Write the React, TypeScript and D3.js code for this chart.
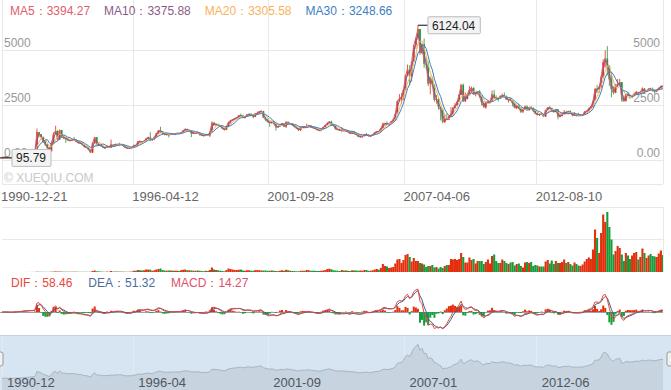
import * as d3 from "d3";
import { useEffect, useRef } from "react";

const W = 671;
const H = 390;
const FONT = '"Liberation Sans", Arial, sans-serif';

// Shanghai Composite, one bar per month starting 1990-12
const START_YEAR = 1990;
const START_MONTH = 11;
const FIRST_OPEN = 96.05;

const closes = [
  127.61,
  129.97, 133.01, 120.19, 113.94, 114.83, 137.56, 145.54, 178.43, 180.92, 218.6, 259.6, 292.75,
  313.24, 341.35, 368.83, 443.55, 1266.49, 1169.74, 1040.59, 823.27, 703.64, 549.45, 393.52, 780.39,
  1179.0, 1321.9, 925.9, 1357.3, 1039.5, 1007.1, 960.4, 893.3, 895.7, 919.0, 935.7, 833.8,
  770.3, 782.3, 692.4, 593.9, 567.9, 467.2, 333.9, 763.1, 1033.5, 700.0, 679.6, 647.9,
  562.6, 549.3, 642.9, 559.2, 701.0, 630.6, 713.4, 712.0, 703.1, 716.3, 619.8, 555.3,
  537.4, 545.8, 570.7, 676.9, 657.4, 850.3, 826.4, 825.0, 869.8, 980.8, 1027.1, 917.0,
  960.7, 1052.0, 1208.7, 1340.7, 1309.8, 1197.7, 1167.1, 1172.9, 1134.1, 1197.2, 1168.2, 1194.1,
  1222.2, 1206.5, 1243.2, 1343.4, 1411.9, 1338.4, 1356.2, 1205.7, 1235.3, 1216.0, 1249.1, 1146.7,
  1134.7, 1090.1, 1158.1, 1120.6, 1279.3, 1689.4, 1601.2, 1627.7, 1566.4, 1523.4, 1426.9, 1366.6,
  1534.9, 1714.6, 1800.2, 1836.3, 1894.6, 1928.1, 2023.5, 2021.2, 1910.2, 1961.3, 2070.6, 2073.5,
  2065.6, 1959.2, 2112.8, 2119.2, 2214.3, 2218.0, 1920.3, 1834.1, 1724.9, 1690.3, 1747.0, 1646.0,
  1491.2, 1524.6, 1603.0, 1667.6, 1515.7, 1732.8, 1652.8, 1669.2, 1581.6, 1507.4, 1435.8, 1357.7,
  1499.8, 1511.9, 1510.7, 1521.4, 1576.3, 1487.0, 1476.7, 1421.2, 1367.2, 1348.3, 1397.2, 1497.0,
  1590.7, 1675.1, 1741.6, 1595.6, 1555.9, 1399.2, 1386.2, 1342.1, 1396.7, 1320.5, 1340.8, 1266.5,
  1191.8, 1306.0, 1181.2, 1159.2, 1060.7, 1080.9, 1083.0, 1162.8, 1155.6, 1092.8, 1099.3, 1161.1,
  1258.0, 1299.0, 1298.3, 1440.2, 1641.3, 1672.2, 1612.7, 1658.6, 1752.4, 1837.9, 2099.3, 2675.5,
  2786.3, 2881.1, 3184.0, 3841.3, 4109.7, 3820.7, 4471.0, 5218.8, 5552.3, 5954.8, 4871.8, 5261.6,
  4383.4, 4348.5, 3472.7, 3693.1, 3433.4, 2736.1, 2775.7, 2397.4, 2293.8, 1728.8, 1871.2, 1820.8,
  1990.7, 2082.9, 2373.2, 2477.6, 2632.9, 2959.4, 3412.1, 2667.7, 2779.4, 2995.9, 3195.3, 3277.1,
  2989.3, 3051.9, 3109.1, 2870.6, 2592.2, 2398.4, 2637.5, 2638.8, 2655.7, 2978.8, 2820.2, 2808.1,
  2790.7, 2905.1, 2928.1, 2911.5, 2743.5, 2762.1, 2701.7, 2567.3, 2359.2, 2468.3, 2333.4, 2199.4,
  2292.6, 2428.5, 2262.8, 2396.3, 2372.2, 2225.4, 2103.6, 2047.5, 2086.2, 2068.9, 1980.1, 2269.1,
  2385.4, 2365.6, 2236.6, 2177.9, 2300.6, 1979.2, 1993.8, 2098.4, 2174.7, 2141.6, 2220.5, 2116.0,
  2033.1, 2056.3, 2033.3, 2026.4, 2039.2, 2048.3, 2201.6, 2217.2, 2363.9, 2420.2, 2682.8, 3234.7,
  3210.4, 3310.3, 3747.9, 4441.7, 4611.7, 4277.2, 3663.7, 3206.0, 3052.8, 3382.6, 3445.4, 3539.2,
  2737.6, 2688.0, 3003.9, 2938.3, 2916.6, 2929.6, 2979.3, 3085.5, 3004.7, 3100.5, 3250.0, 3103.6,
  3159.2, 3241.7, 3222.5, 3154.7, 3117.2, 3192.4, 3273.0, 3360.8, 3348.9,
];

const highs = [
  127.61,
  135.2, 134.9, 134.0, 120.2, 115.0, 137.6, 146.0, 178.5, 188.0, 219.0, 260.0, 293.0,
  314, 342, 370, 444, 1429.01, 1282, 1183, 1061, 865, 728, 592, 830,
  1260, 1558.95, 1342, 1392, 1366, 1110, 1034, 1003, 934, 957, 1044, 943,
  860, 808, 793, 698, 619, 578, 478, 804, 1052.94, 1040, 780, 700,
  648, 570, 663, 649, 926.41, 713, 735, 738, 790, 733, 719, 624,
  558, 559, 579, 689, 695, 862, 885, 835, 880, 992, 1058, 1258.69,
  966, 1062, 1222, 1370, 1510.18, 1315, 1220, 1178, 1180, 1215, 1204, 1196,
  1236, 1228, 1254, 1352, 1420, 1422.98, 1377, 1360, 1277, 1245, 1301, 1257,
  1165, 1140, 1165, 1192, 1293, 1756.18, 1736, 1670, 1652, 1591, 1535, 1440,
  1552, 1749, 1806, 1851, 1898, 1933, 2037, 2114.5, 2050, 1972, 2082, 2125.7,
  2131, 2091, 2121, 2199, 2216, 2245.43, 2231, 1969, 1885, 1776, 1789, 1776,
  1659, 1543, 1610, 1673, 1671, 1748, 1748.9, 1682, 1676, 1587, 1520, 1444,
  1503, 1524, 1535, 1649.6, 1583, 1584, 1515, 1483, 1427, 1378, 1423, 1502,
  1600, 1707, 1769, 1783.01, 1605, 1568, 1439, 1396, 1492, 1402, 1381, 1345,
  1273, 1329, 1315, 1232, 1165, 1146, 1089, 1182, 1223, 1160, 1104, 1178,
  1260, 1311, 1305, 1446, 1694, 1677, 1757, 1661, 1758, 1842, 2101, 2698,
  2994, 3049, 3197, 3851, 4335.96, 4311, 4476, 5220, 5561, 6124.04, 5957, 5300,
  5522.78, 4695, 4472, 3786, 3786, 3440, 2952, 2806, 2432, 2322, 2050, 2100.8,
  2017, 2402, 2402, 2579, 2688, 2989, 3454, 3478.01, 3068, 3007, 3361, 3338,
  3306, 3073, 3125, 3181.66, 2900, 2661, 2654, 2708, 2694, 3159, 3186.72, 2939,
  2863, 2937, 3023, 3067.46, 2934, 2765, 2826, 2710, 2575, 2477, 2536, 2398,
  2302, 2478, 2478, 2414, 2453, 2391, 2249, 2167, 2109, 2138, 2091, 2276,
  2398, 2444.8, 2381, 2254, 2333, 2315, 2092, 2174, 2270, 2243, 2236, 2257,
  2120, 2177, 2075, 2146, 2055, 2085, 2203, 2248, 2378, 2450, 2683, 3239,
  3406.79, 3345, 3835, 4572, 4985, 5178.19, 4300, 4006, 3356, 3459, 3678, 3684.57,
  3540, 2933, 3018, 3097, 2961, 2945, 3070, 3140, 3107, 3112, 3301, 3264,
  3176, 3263, 3280, 3295.19, 3160, 3193, 3301, 3381, 3391,
];

const lows = [
  95.79,
  127.6, 129.5, 119.5, 112.2, 104.96, 114.0, 136.0, 145.0, 175.0, 180.0, 218.0, 259.0,
  292, 313, 341, 368, 443, 1039, 1007, 781, 640, 518, 386.85, 393,
  772, 1156, 890, 920, 1001, 946, 777, 881, 869, 866, 892, 810,
  758, 727, 666, 574, 544, 462, 325.89, 326, 746, 660, 640, 620,
  562, 524.43, 549, 555, 557, 621, 610, 694, 686, 696, 616, 549,
  512.83, 527, 542, 566, 641, 650, 798, 795, 808, 860, 947, 855,
  870, 911, 1045, 1200, 1231, 1142, 1120, 1120, 1025, 1126, 1145, 1126,
  1190, 1177, 1201, 1237, 1336, 1328, 1298, 1043, 1200, 1178, 1209, 1114,
  1084, 1064, 1086, 1113, 1047.83, 1272, 1563, 1543, 1546, 1512, 1413, 1341,
  1361, 1517, 1663, 1782, 1800, 1846, 1925, 1986, 1910, 1885, 1963, 2042,
  2031, 1893, 1950, 2063, 2105, 2175, 1907, 1775, 1713, 1514.86, 1636, 1617,
  1339.2, 1459, 1515, 1588, 1501, 1455, 1639, 1607, 1559, 1487, 1423, 1311.7,
  1313, 1469, 1455, 1504, 1504, 1479, 1448, 1406, 1358, 1307, 1307.4, 1384,
  1490, 1590, 1664, 1560, 1545, 1395, 1364, 1323, 1259.4, 1296, 1290, 1259,
  1189, 1180, 1172, 1135, 1051, 998.2, 1004, 1077, 1130, 1067, 1074, 1092,
  1158, 1257, 1262, 1297, 1440, 1541, 1587, 1543, 1652, 1751, 1836, 2082,
  2641, 2541, 2724, 3165, 3797, 3404, 3563.54, 4470, 5050, 5462, 4778, 4812,
  4195, 4123, 3357, 2990.79, 3333, 2654, 2566, 2284, 1802, 1664.93, 1678, 1814,
  1814, 1990, 2037, 2347, 2470, 2630, 2953, 2639, 2639, 2759, 2990, 3039,
  2977, 2890, 2976, 2837, 2481, 2382, 2319.74, 2560, 2573, 2644, 2775, 2721,
  2661, 2773, 2855, 2893, 2740, 2610, 2700, 2437, 2356, 2307, 2333, 2134,
  2132.6, 2273, 2242, 2254, 2360, 2200, 2094, 2039, 1999, 2055, 1978, 1949.46,
  2254, 2305, 2212, 2161, 2170, 1849.65, 1951, 1991, 2096, 2127, 2087, 2105,
  1984, 2033, 1974, 2010, 1991, 2010, 2034, 2193, 2210, 2303, 2408, 2680,
  3044, 3049, 3261, 3740, 4198, 3847, 3373, 2850.71, 2983, 3039, 3323, 3397,
  2638.3, 2638.96, 2649, 2925, 2780, 2807, 2925, 2947, 2969, 3000, 3100, 3044,
  3085, 3149, 3190, 3111, 3016.5, 3092, 3173, 3247, 3341,
];

// monthly turnover, 100M shares
const volumes = [
  0.5,
  1, 1, 1, 1, 1, 1, 2, 3, 3, 4, 5, 6,
  10, 12, 15, 20, 60, 45, 40, 35, 30, 30, 35, 60,
  80, 120, 90, 100, 80, 60, 50, 60, 50, 50, 70, 60,
  50, 40, 40, 40, 40, 40, 40, 200, 300, 150, 120, 80,
  60, 40, 80, 60, 200, 80, 100, 90, 90, 80, 70, 60,
  50, 60, 90, 250, 250, 400, 350, 300, 350, 500, 500, 450,
  250, 350, 500, 600, 700, 400, 300, 250, 300, 300, 250, 250,
  250, 200, 350, 450, 500, 350, 350, 300, 250, 250, 300, 250,
  200, 150, 250, 200, 400, 900, 500, 400, 350, 250, 200, 150,
  400, 700, 600, 500, 400, 400, 450, 500, 300, 250, 350, 350,
  250, 250, 350, 400, 350, 300, 300, 300, 250, 250, 300, 250,
  200, 150, 250, 350, 250, 450, 350, 250, 200, 200, 150, 150,
  250, 250, 250, 400, 350, 250, 250, 250, 200, 200, 250, 300,
  400, 600, 650, 550, 350, 300, 250, 200, 400, 300, 300, 250,
  200, 350, 300, 300, 250, 300, 250, 400, 400, 250, 250, 350,
  500, 600, 450, 800, 1600, 1200, 1100, 800, 900, 1000, 1700, 2500,
  2600, 1800, 2400, 3400, 3600, 3000, 2100, 2800, 2200, 2200, 1800, 1700,
  1500, 1000, 1200, 1200, 1400, 900, 1000, 700, 1000, 800, 1200, 1400,
  1400, 2600, 2500, 2600, 2400, 2600, 3800, 3000, 1900, 1900, 2900, 2400,
  2600, 1700, 2200, 2200, 2200, 1600, 2000, 2500, 1700, 3200, 3500, 2200,
  1800, 1800, 2500, 2200, 1800, 1600, 1900, 2000, 1300, 1600, 1700, 1200,
  900, 1900, 2000, 1800, 2000, 1200, 1400, 1300, 1100, 1100, 1100, 2100,
  2400, 1700, 2300, 1600, 2200, 1800, 1800, 2000, 2500, 1800, 2000, 1600,
  1300, 1900, 1600, 1300, 1200, 1500, 2100, 2600, 2900, 2600, 4500, 8500,
  6800, 3800, 7800, 11500, 10000, 12000, 9000, 6500, 3500, 4200, 5200, 4800,
  3500, 2200, 3800, 3300, 2600, 3300, 3800, 4000, 2500, 3000, 4700, 3800,
  2800, 3300, 3600, 3200, 3100, 3000, 3700, 4300, 3400,
];

const maNames = ["MA5", "MA10", "MA20", "MA30"];
const maMonths = [1, 2, 4, 6]; // monthly span closest to 5/10/20/30 weeks
const maColors = ["#e0606e", "#8d5b86", "#f7b35a", "#3d7ec4"];
const maLegend = [3394.27, 3375.88, 3305.58, 3248.66];

const macdNames = ["DIF", "DEA", "MACD"];
const macdColors = ["#e8473c", "#4a6b9c", "#e0506a"];
const macdLegend = [58.46, 51.32, 14.27];

const priceTicks = [0, 2500, 5000];
const priceTickLabels = ["0.00", "2500", "5000"];
const axisDates = ["1990-12-21", "1996-04-12", "2001-09-28", "2007-04-06", "2012-08-10"];
const navLabels = ["1990-12", "1996-04", "2001-09", "2007-01", "2012-06"];

const UP = "#e2300f";
const DOWN = "#169c3b";
const GRID = "#e8e8e8";

export default function App() {
  const ref = useRef<SVGSVGElement>(null);

  useEffect(() => {
    if (!ref.current) return;
    document.body.style.margin = "0";

    const svg = d3.select(ref.current);
    svg.selectAll("*").remove();
    svg.attr("width", W).attr("height", H).style("font-family", FONT).style("display", "block");

    const n = closes.length;
    const dates = closes.map((_, i) => new Date(START_YEAR, START_MONTH + i, 20));
    const opens = closes.map((_, i) => (i === 0 ? FIRST_OPEN : closes[i - 1]));
    const isUp = (i: number) => closes[i] >= opens[i];

    const x = d3.scaleTime().domain([dates[0], dates[n - 1]]).range([2, 663]);
    const parse = d3.timeParse("%Y-%m-%d");
    const tickX = axisDates.map((s) => x(parse(s)!));

    const yPrice = d3.scaleLinear().domain([0, 5000]).range([160, 50]);
    const yVol = d3.scaleLinear().domain([0, 13000]).range([272, 207]);
    const yNav = d3.scaleLinear().domain([0, 6000]).range([379, 344]);

    const defs = svg.append("defs");
    const clip = (id: string, y: number, h: number) =>
      defs.append("clipPath").attr("id", id).append("rect").attr("x", 0).attr("y", y).attr("width", 663).attr("height", h);
    clip("clipMain", 0, 184);
    clip("clipVol", 207, 65);
    clip("clipMacd", 274, 59);

    // ---- main price panel ----
    const grid = svg.append("g").attr("stroke", GRID).attr("stroke-width", 1).attr("shape-rendering", "crispEdges");
    tickX.forEach((tx) => grid.append("line").attr("x1", tx).attr("x2", tx).attr("y1", 0).attr("y2", 184));
    priceTicks.forEach((v) =>
      grid.append("line").attr("x1", 2).attr("x2", 663).attr("y1", yPrice(v)).attr("y2", yPrice(v))
    );
    grid.append("line").attr("x1", 2).attr("x2", 663).attr("y1", 184).attr("y2", 184);
    grid.append("line").attr("x1", 663).attr("x2", 663).attr("y1", 0).attr("y2", 184);

    priceTicks.forEach((v, k) => {
      svg.append("text").attr("x", 4).attr("y", yPrice(v) - 3)
        .attr("font-size", 12).attr("fill", "#999").text(priceTickLabels[k]);
      svg.append("text").attr("x", 660).attr("y", yPrice(v) - 3).attr("text-anchor", "end")
        .attr("font-size", 12).attr("fill", "#999").text(priceTickLabels[k]);
    });

    svg.append("text").attr("x", 4).attr("y", 182).attr("font-size", 12).attr("fill", "#c8c8c8")
      .text("© XUEQIU.COM");

    const main = svg.append("g").attr("clip-path", "url(#clipMain)");
    const bw = 1.7;
    closes.forEach((c, i) => {
      const cx = x(dates[i]);
      const col = isUp(i) ? UP : DOWN;
      main.append("line").attr("x1", cx).attr("x2", cx)
        .attr("y1", yPrice(highs[i])).attr("y2", yPrice(lows[i]))
        .attr("stroke", col).attr("stroke-width", 0.8);
      const top = yPrice(Math.max(c, opens[i]));
      const bot = yPrice(Math.min(c, opens[i]));
      main.append("rect").attr("x", cx - bw / 2).attr("y", top)
        .attr("width", bw).attr("height", Math.max(1, bot - top)).attr("fill", col);
    });

    const movingAvg = (w: number) =>
      closes.map((_, i) => (i < w - 1 ? null : d3.mean(closes.slice(i - w + 1, i + 1))!));
    maMonths.forEach((w, k) => {
      const vals = movingAvg(w);
      const line = d3.line<number | null>()
        .defined((d) => d !== null)
        .x((_, i) => x(dates[i]))
        .y((d) => yPrice(d as number));
      main.append("path").attr("d", line(vals)).attr("fill", "none")
        .attr("stroke", maColors[k]).attr("stroke-width", 1);
    });

    // max / min flags
    const flag = (px: number, py: number, label: string, lineFrom: number) => {
      svg.append("line").attr("x1", lineFrom).attr("x2", px + 10).attr("y1", py).attr("y2", py)
        .attr("stroke", "#333").attr("stroke-width", 1.2);
      const g = svg.append("g");
      const rect = g.append("rect").attr("x", px + 10).attr("y", py - 8.5).attr("height", 17)
        .attr("rx", 1).attr("fill", "#f3f3f3").attr("stroke", "#bbb");
      const t = g.append("text").attr("x", px + 14).attr("y", py + 4.5)
        .attr("font-size", 12).attr("fill", "#222").text(label);
      const tw = (t.node() as SVGTextElement).getComputedTextLength();
      rect.attr("width", tw + 9);
    };
    const iMax = d3.maxIndex(highs);
    const iMin = d3.minIndex(lows);
    const fmt = d3.format(".2f");
    flag(x(dates[iMax]), yPrice(highs[iMax]), fmt(highs[iMax]), x(dates[iMax]));
    flag(x(dates[iMin]), yPrice(lows[iMin]), fmt(lows[iMin]), 0);

    // MA legend
    const maText = svg.append("text").attr("x", 10).attr("y", 15).attr("font-size", 12);
    maNames.forEach((name, k) => {
      maText.append("tspan").attr("dx", k === 0 ? 0 : 14).attr("fill", maColors[k])
        .text(`${name}：${fmt(maLegend[k])}`);
    });

    // date axis
    axisDates.forEach((s, k) => {
      svg.append("text").attr("x", Math.max(0, tickX[k] - 1)).attr("y", 201)
        .attr("font-size", 13).attr("fill", "#666").text(s);
    });

    // ---- volume ----
    const vgrid = svg.append("g").attr("stroke", GRID).attr("shape-rendering", "crispEdges");
    [13000, 6500].forEach((v) =>
      vgrid.append("line").attr("x1", 2).attr("x2", 663).attr("y1", yVol(v)).attr("y2", yVol(v))
    );
    vgrid.append("line").attr("x1", 663).attr("x2", 663).attr("y1", 207).attr("y2", 272);

    const vol = svg.append("g").attr("clip-path", "url(#clipVol)");
    volumes.forEach((v, i) => {
      const cx = x(dates[i]);
      vol.append("rect").attr("x", cx - 1.05).attr("y", yVol(v)).attr("width", 2.1)
        .attr("height", Math.max(0.5, yVol(0) - yVol(v))).attr("fill", isUp(i) ? UP : DOWN);
    });

    // ---- MACD ----
    const ema = (src: number[], p: number) => {
      const k = 2 / (p + 1);
      const out: number[] = [];
      src.forEach((v, i) => out.push(i === 0 ? v : out[i - 1] + k * (v - out[i - 1])));
      return out;
    };
    const fast = ema(closes, 3);
    const slow = ema(closes, 6);
    const dif = fast.map((v, i) => v - slow[i]);
    const dea = ema(dif, 3);
    const hist = dif.map((v, i) => 2 * (v - dea[i]));
    const yMacd = d3.scaleLinear().domain([0, d3.max(dif)!]).range([312, 289]);

    svg.append("line").attr("x1", 0).attr("x2", 663).attr("y1", 312).attr("y2", 312)
      .attr("stroke", "#9aa3ad").attr("shape-rendering", "crispEdges");
    const mg = svg.append("g").attr("clip-path", "url(#clipMacd)");
    hist.forEach((h, i) => {
      const cx = x(dates[i]);
      mg.append("rect").attr("x", cx - 1).attr("width", 2)
        .attr("y", yMacd(Math.max(0, h))).attr("height", Math.abs(yMacd(h) - yMacd(0)))
        .attr("fill", h >= 0 ? UP : DOWN);
    });
    const lineOf = (arr: number[]) =>
      d3.line<number>().x((_, i) => x(dates[i])).y((d) => yMacd(d))(arr);
    mg.append("path").attr("d", lineOf(dea)).attr("fill", "none").attr("stroke", "#3f5f93").attr("stroke-width", 1);
    mg.append("path").attr("d", lineOf(dif)).attr("fill", "none").attr("stroke", "#e8473c").attr("stroke-width", 1);

    const macdText = svg.append("text").attr("x", 11).attr("y", 287).attr("font-size", 12);
    macdNames.forEach((name, k) => {
      macdText.append("tspan").attr("dx", k === 0 ? 0 : 16).attr("fill", macdColors[k])
        .text(`${name}：${fmt(macdLegend[k])}`);
    });

    // ---- navigator ----
    svg.append("rect").attr("x", 0).attr("y", 335).attr("width", W).attr("height", 55).attr("fill", "#d7e5f2");
    svg.append("line").attr("x1", 0).attr("x2", W).attr("y1", 335.5).attr("y2", 335.5).attr("stroke", "#c3d1de");
    tickX.forEach((tx) =>
      svg.append("line").attr("x1", tx).attr("x2", tx).attr("y1", 336).attr("y2", 390)
        .attr("stroke", "#e3ecf5").attr("shape-rendering", "crispEdges")
    );
    const area = d3.area<number>().x((_, i) => x(dates[i])).y0(390).y1((d) => yNav(d));
    svg.append("path").attr("d", area(closes)).attr("fill", "#c7d3df");
    const navLine = d3.line<number>().x((_, i) => x(dates[i])).y((d) => yNav(d));
    svg.append("path").attr("d", navLine(closes)).attr("fill", "none").attr("stroke", "#a6b3c1").attr("stroke-width", 1);

    navLabels.forEach((s, k) => {
      svg.append("text").attr("x", tickX[k] + 5).attr("y", 387)
        .attr("font-size", 13).attr("fill", "#4e5660").text(s);
    });

    [-4, 667].forEach((hx) => {
      svg.append("rect").attr("x", hx).attr("y", 352).attr("width", 7).attr("height", 14)
        .attr("rx", 2).attr("fill", "#f2f2f2").attr("stroke", "#999");
    });
  }, []);

  return <svg ref={ref} />;
}
